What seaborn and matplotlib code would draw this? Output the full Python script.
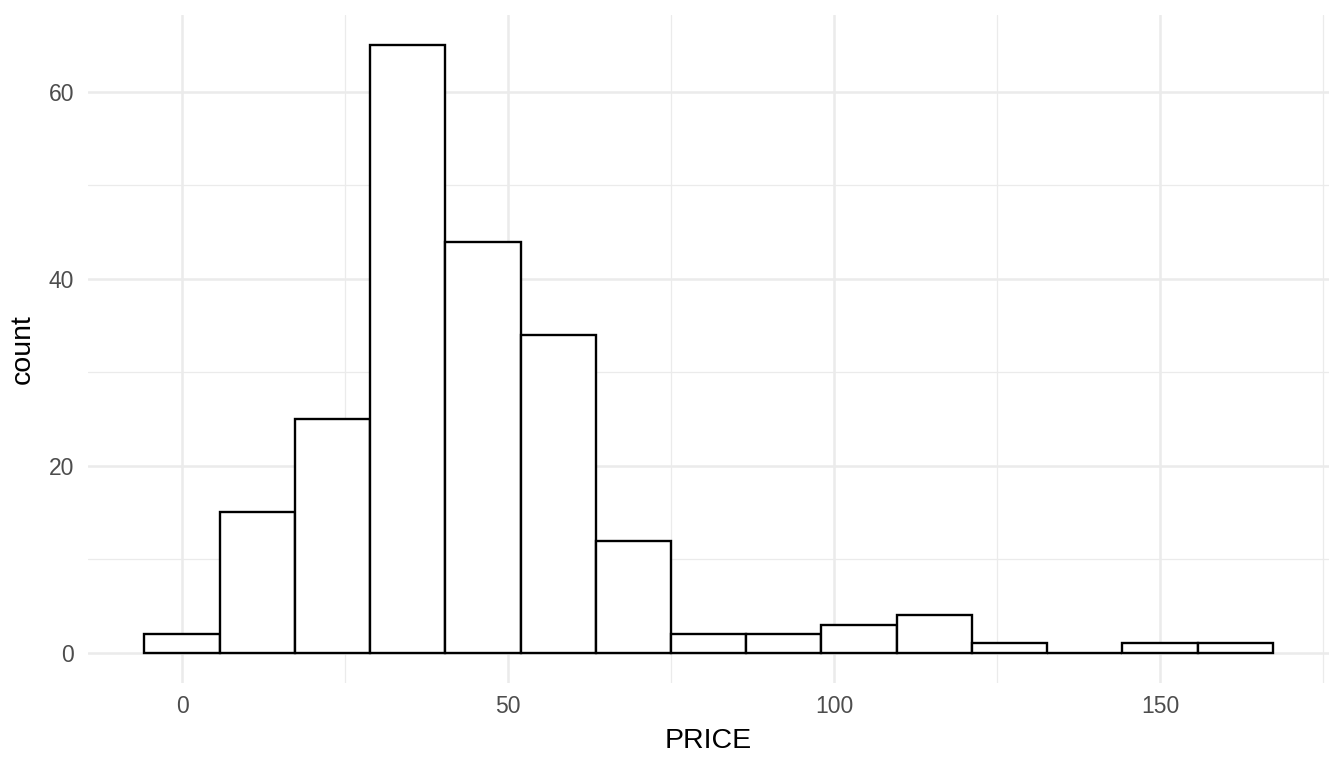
import matplotlib
matplotlib.use("Agg")
import matplotlib.pyplot as plt
import numpy as np
import seaborn as sns
import pandas as pd

# bin midpoints (PRICE) and counts
price_mid = [0.0, 11.5, 23.1, 34.6, 46.1, 57.7, 69.2, 80.7, 92.3, 103.8, 115.4, 126.9, 138.4, 150.0, 161.5]
counts = [2, 15, 25, 65, 44, 34, 12, 2, 2, 3, 4, 1, 0, 1, 1]

bin_width = 11.535
x_ticks = [0, 50, 100, 150]
y_ticks = [0, 20, 40, 60]

def main():
	sns.set_theme(style="white")
	plt.rcParams['font.family'] = ['Liberation Sans', 'DejaVu Sans']

	df = pd.DataFrame({"PRICE": price_mid, "count": counts})

	fig = plt.figure(figsize=(13.44, 7.68), dpi=100)
	ax = fig.add_axes([0.0655, 0.1107, 0.9235, 0.8698])

	lo = -bin_width / 2
	hi = 161.5 + bin_width / 2
	sns.histplot(data=df, x="PRICE", weights="count", binwidth=bin_width,
		binrange=(lo, hi),
		color="white", edgecolor="black", linewidth=1.7, alpha=1, ax=ax, zorder=3)

	pad = (hi - lo) * 0.05
	ax.set_xlim(lo - pad, hi + pad)
	ax.set_ylim(-65 * 0.05, 65 * 1.05)

	ax.set_xticks(x_ticks)
	ax.set_yticks(y_ticks)
	ax.set_xticks([25, 75, 125, 175], minor=True)
	ax.set_yticks([10, 30, 50], minor=True)
	ax.grid(which="major", color="#EBEBEB", linewidth=1.8, zorder=0)
	ax.grid(which="minor", color="#EBEBEB", linewidth=0.9, zorder=0)
	ax.set_axisbelow(True)
	for s in ax.spines.values():
		s.set_visible(False)
	ax.tick_params(which="both", length=0, labelsize=16.5, labelcolor="#4D4D4D")
	ax.tick_params(axis="x", pad=9)
	ax.tick_params(axis="y", pad=10)

	ax.set_xlabel("PRICE", fontsize=20.5, color="black", labelpad=7)
	ax.set_ylabel("count", fontsize=20.5, color="black", labelpad=9)

	fig.savefig("out.png", dpi=100)

if __name__ == "__main__":
	main()
